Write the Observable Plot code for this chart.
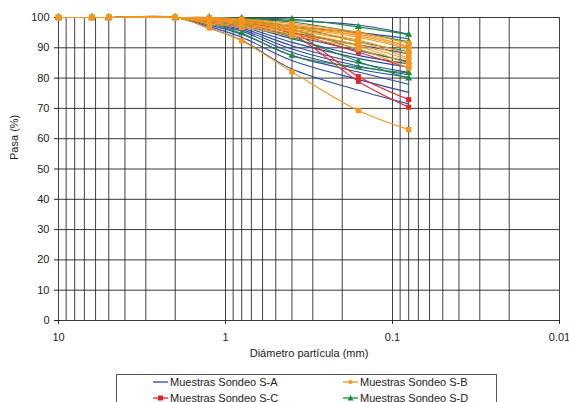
<!DOCTYPE html>
<html>
<head>
<meta charset="utf-8">
<script src="https://cdn.jsdelivr.net/npm/d3@7"></script>
<script src="https://cdn.jsdelivr.net/npm/@observablehq/plot@0.6"></script>
<style>
  body { margin: 0; background: #fff; font-family: "Liberation Sans", Arial, sans-serif; }
  #wrap { position: relative; width: 569px; height: 402px; overflow: hidden; }
  #legend { position: absolute; left: 116px; top: 374px; width: 381px; height: 40px; border: 1px solid #555; box-sizing: border-box; }
  .item { position: absolute; font-size: 11px; color: #222; white-space: nowrap; display: flex; align-items: center; height: 14px; }
  .item svg { margin-right: 2px; }
</style>
</head>
<body>
<div id="wrap">
  <div id="chart"></div>
  <div id="legend"></div>
</div>
<script>
// Sieve sizes (mm)
const sizes = [10, 6.3, 5, 2, 1.25, 0.8, 0.4, 0.16, 0.08];

// Muestras Sondeo S-A (blue, no markers)
const sondeoA = [
  [100, 100, 100, 100, 100, 99.8, 99, 97.5, 94.5],
  [100, 100, 100, 100, 99.8, 99.3, 97, 95, 93],
  [100, 100, 100, 100, 99.5, 98.5, 95, 91, 88],
  [100, 100, 100, 100, 99.3, 98, 94, 89, 85.5],
  [100, 100, 100, 100, 99, 97.5, 93, 87.5, 84.7],
  [100, 100, 100, 100, 98.8, 97, 91.8, 86.5, 83.6],
  [100, 100, 100, 100, 98.5, 96.5, 90.7, 85, 81.9],
  [100, 100, 100, 100, 98.2, 96, 89.6, 84, 81.1],
  [100, 100, 100, 100, 98, 95.5, 88.5, 83, 80.3],
  [100, 100, 100, 100, 97.5, 94.5, 87.5, 82, 78],
  [100, 100, 100, 100, 97, 93.5, 85.8, 79.5, 75.3],
  [100, 100, 100, 100, 96.5, 92.5, 83, 76, 71.5]
];
// Muestras Sondeo S-B (orange)
const sondeoB = [
  [100, 100, 100, 100, 100, 99.5, 98, 95, 91.5],
  [100, 100, 100, 100, 99.8, 99.2, 97.5, 94.5, 90.5],
  [100, 100, 100, 100, 99.6, 99, 97, 94, 90],
  [100, 100, 100, 100, 99.4, 98.7, 96.6, 93.5, 89.5],
  [100, 100, 100, 100, 99.2, 98.4, 96.2, 92.5, 88],
  [100, 100, 100, 100, 99, 98, 95.7, 92, 86.6],
  [100, 100, 100, 100, 98.7, 97.6, 95.2, 91, 86],
  [100, 100, 100, 100, 98.3, 97.2, 94.6, 90.5, 84.5],
  [100, 100, 100, 100, 97.9, 96.7, 94, 89.6, 83.2],
  [100, 100, 100, 100, 96.5, 92.3, 82.1, 69.3, 63]
];
// Muestras Sondeo S-C (red, squares)
const sondeoC = [
  [100, 100, 100, 100, 99.5, 98.5, 95, 88.5, 83.5],
  [100, 100, 100, 100, 99.7, 99, 95.5, 80.5, 72.9],
  [100, 100, 100, 100, 99.5, 98.6, 94.5, 78.9, 70.4]
];
// Muestras Sondeo S-D (green, triangles)
const sondeoD = [
  [100, 100, 100, 100, 100, 99.8, 99.5, 96.9, 94.3],
  [100, 100, 100, 100, 100, 99.5, 98.5, 95, 92],
  [100, 100, 100, 100, 99.8, 99, 97, 92, 88.8],
  [100, 100, 100, 100, 99.6, 98.5, 96, 89.5, 85.2],
  [100, 100, 100, 100, 98, 94.8, 87.4, 83.6, 81.7],
  [100, 100, 100, 100, 99.4, 98, 93.5, 85.5, 79.9]
];

const seriesNames = ["Muestras Sondeo S-A", "Muestras Sondeo S-B", "Muestras Sondeo S-C", "Muestras Sondeo S-D"];
const seriesColors = ["#2b4a9e", "#f7961e", "#e3232a", "#1a8a3c"];
const seriesSymbols = [null, "square", "square", "triangle"];
const seriesRadius = [0, 3, 2.8, 2.6];

const xTicks = [10, 1, 0.1, 0.01];
const xTickLabels = ["10", "1", "0.1", "0.01"];
const yTicks = [0, 10, 20, 30, 40, 50, 60, 70, 80, 90, 100];
const xTitle = "Diámetro partícula (mm)";
const yTitle = "Pasa (%)";

// log grid values (1..9 per decade)
const xGrid = [10].concat(...[1, 0.1, 0.01].map(e => d3.range(1, 10).map(m => +(m * e).toPrecision(3))));

const groups = [sondeoA, sondeoB, sondeoC, sondeoD];
const rows = [];
groups.forEach((g, gi) => g.forEach((vals, si) => vals.forEach((v, k) => {
  rows.push({group: gi, id: gi + "-" + si, size: sizes[k], pasa: v});
})));

const marks = [
  Plot.ruleX(xGrid, {stroke: "#222", strokeWidth: 1, strokeOpacity: 0.85}),
  Plot.ruleY(yTicks, {stroke: "#222", strokeWidth: 1, strokeOpacity: 0.9}),
  Plot.axisX({ticks: xTicks, tickFormat: (d) => xTickLabels[xTicks.indexOf(d)], tickSize: 4, tickPadding: 9, label: null, stroke: "#222"}),
  Plot.axisY({ticks: yTicks, tickSize: 4, tickPadding: 5, label: null, stroke: "#222"})
];
// drawing order: S-A, S-C, S-D, S-B (orange on top)
[0, 2, 3, 1].forEach(gi => {
  const data = rows.filter(r => r.group === gi);
  marks.push(Plot.line(data, {x: "size", y: "pasa", z: "id", stroke: seriesColors[gi], strokeWidth: 1.1, curve: "catmull-rom"}));
  if (seriesSymbols[gi]) {
    marks.push(Plot.dot(data, {x: "size", y: "pasa", fill: seriesColors[gi], stroke: "none", symbol: seriesSymbols[gi], r: seriesRadius[gi]}));
  }
});
marks.push(Plot.text([xTitle], {frameAnchor: "bottom", dy: 36, fontSize: 11, fill: "#222"}));
marks.push(Plot.text([yTitle], {frameAnchor: "left", rotate: -90, dx: -44, dy: -9, fontSize: 11, fill: "#222"}));

const chart = Plot.plot({
  width: 569,
  height: 366,
  marginLeft: 58,
  marginRight: 10,
  marginTop: 17,
  marginBottom: 46,
  style: {fontFamily: "'Liberation Sans', Arial, sans-serif", fontSize: "11px", color: "#222", background: "#fff"},
  x: {type: "log", domain: [10, 0.01]},
  y: {domain: [0, 100]},
  marks
});
document.getElementById("chart").appendChild(chart);

// Legend
const legend = document.getElementById("legend");
const pos = [[36, 0], [226, 0], [36, 16], [226, 16]];
[0, 1, 2, 3].forEach((gi, i) => {
  const div = document.createElement("div");
  div.className = "item";
  div.style.left = pos[i][0] + "px";
  div.style.top = pos[i][1] + "px";
  const c = seriesColors[gi];
  let marker = "";
  if (gi === 1) marker = `<circle cx="7.5" cy="5" r="2" fill="${c}"/>`;
  if (gi === 2) marker = `<rect x="5" y="2.5" width="5" height="5" fill="${c}"/>`;
  if (gi === 3) marker = `<path d="M7.5,2 L10.5,7.5 L4.5,7.5 Z" fill="${c}"/>`;
  div.innerHTML = `<svg width="15" height="10"><line x1="0" x2="15" y1="5" y2="5" stroke="${c}" stroke-width="1.3"/>${marker}</svg><span>${seriesNames[gi]}</span>`;
  legend.appendChild(div);
});
</script>
</body>
</html>
